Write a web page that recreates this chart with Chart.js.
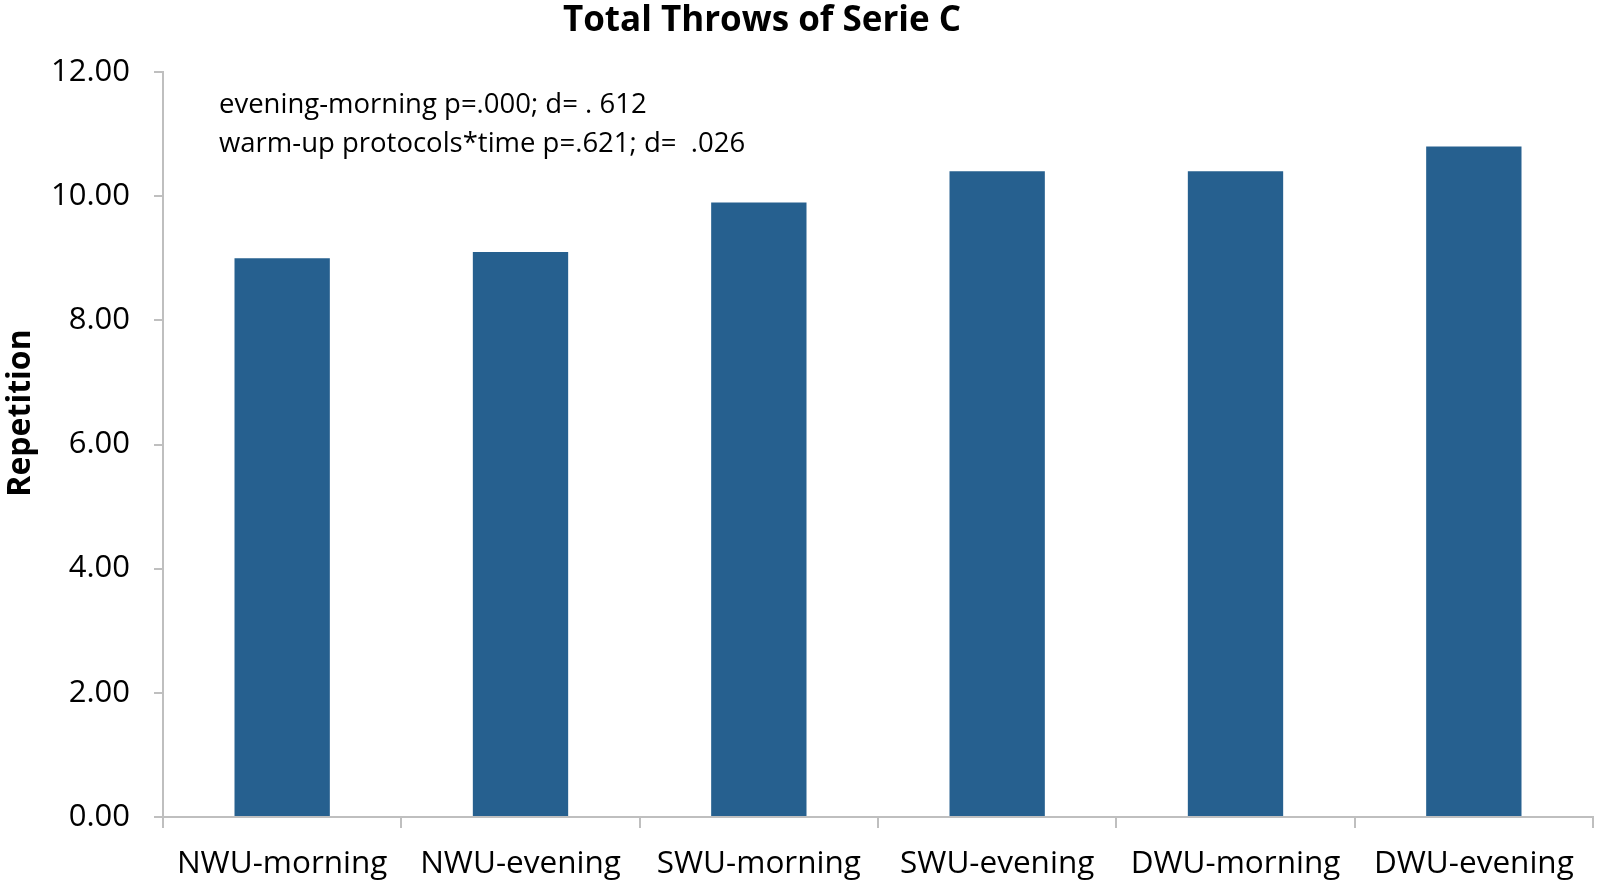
<!DOCTYPE html>
<html>
<head>
<meta charset="utf-8">
<script src="https://cdn.jsdelivr.net/npm/chart.js@4.4.0/dist/chart.umd.min.js"></script>
<style>
  html, body { margin: 0; padding: 0; background: #ffffff; }
  #wrap { width: 1598px; height: 880px; position: relative; }
</style>
</head>
<body>
<div id="wrap"><canvas id="c" width="1598" height="880"></canvas></div>
<script>
const categories = ["NWU-morning", "NWU-evening", "SWU-morning", "SWU-evening", "DWU-morning", "DWU-evening"];
const repetitions = [9.0, 9.1, 9.9, 10.4, 10.4, 10.8];
const yTicks = [0, 2, 4, 6, 8, 10, 12];
const chartTitle = "Total Throws of Serie C";
const yTitle = "Repetition";
const notes = ["evening-morning p=.000; d= . 612", "warm-up protocols*time p=.621; d=  .026"];

const FONT = "'Open Sans', 'Liberation Sans', sans-serif";
const AXIS = "#bfbfbf";

const textPlugin = {
  id: 'texts',
  afterDraw(chart) {
    const ctx = chart.ctx;
    ctx.save();
    ctx.fillStyle = '#000';
    // title
    ctx.font = "bold 35px " + FONT;
    ctx.textAlign = 'center';
    ctx.textBaseline = 'middle';
    ctx.fillText(chartTitle, 762, 21);
    // y title
    ctx.save();
    ctx.translate(21, 413);
    ctx.rotate(-Math.PI / 2);
    ctx.font = "bold 32px " + FONT;
    ctx.fillText(yTitle, 0, 0);
    ctx.restore();
    // notes
    ctx.font = "27.5px " + FONT;
    ctx.textAlign = 'left';
    ctx.fillText(notes[0], 219, 105);
    ctx.fillText(notes[1], 219, 144);
    ctx.restore();
  }
};

new Chart(document.getElementById('c'), {
  type: 'bar',
  data: {
    labels: categories,
    datasets: [{
      data: repetitions,
      backgroundColor: '#26608f',
      borderWidth: 0,
      barPercentage: 0.8,
      categoryPercentage: 0.5
    }]
  },
  options: {
    responsive: false,
    animation: false,
    layout: { padding: { left: 0, right: 5, top: 72, bottom: 0 } },
    plugins: { legend: { display: false }, title: { display: false }, tooltip: { enabled: false } },
    scales: {
      x: {
        grid: { display: true, drawOnChartArea: false, offset: true, color: AXIS, lineWidth: 2, tickLength: 11 },
        border: { color: AXIS, width: 2 },
        ticks: { color: '#000', font: { family: FONT, size: 31.5 }, padding: 17, maxRotation: 0, autoSkip: false },
        afterFit(scale) { scale.height = 63; }
      },
      y: {
        min: 0, max: 12,
        afterBuildTicks(scale) { scale.ticks = yTicks.map(v => ({ value: v })); },
        grid: { display: true, drawOnChartArea: false, color: AXIS, lineWidth: 2, tickLength: 9 },
        border: { color: AXIS, width: 2 },
        ticks: { color: '#000', font: { family: FONT, size: 31 }, padding: 24,
                 callback: v => Number(v).toFixed(2) },
        afterFit(scale) { scale.width = 163; }
      }
    }
  },
  plugins: [textPlugin]
});
</script>
</body>
</html>
